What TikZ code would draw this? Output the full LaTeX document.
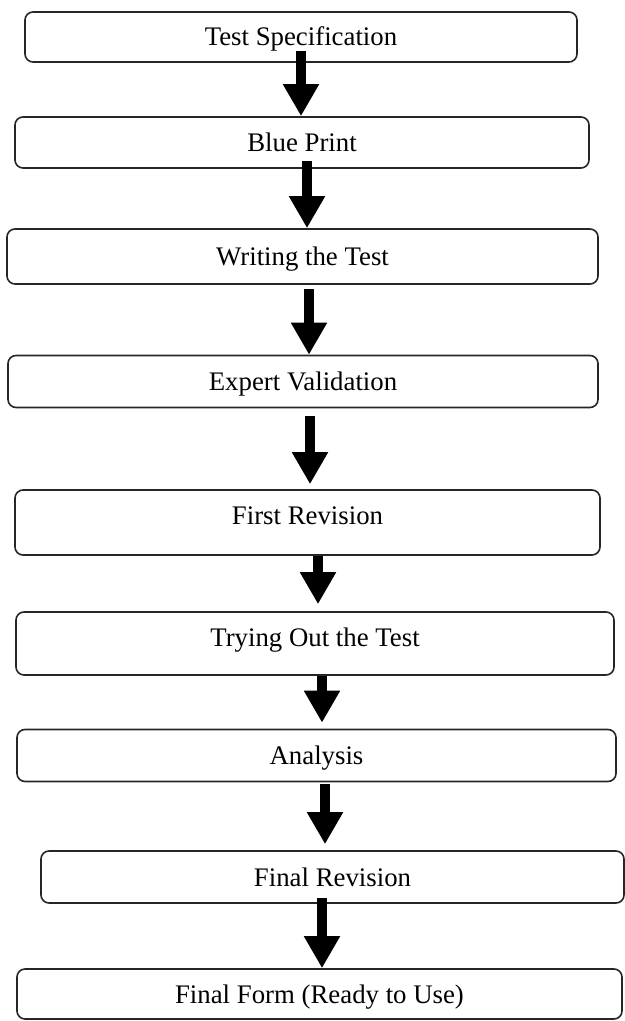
\documentclass[tikz,border=0pt]{standalone}
\usepackage{fontspec}
\setmainfont{Liberation Serif}
\usepackage{tikz}
\usetikzlibrary{arrows.meta,positioning}
\tikzset{block/.style={draw=black!85, line width=0.8pt, rectangle, rounded corners=4pt,
		minimum height=26pt, text height=11pt, text depth=2pt,
		font=\fontsize{13.4}{16}\selectfont},
	arrow/.style={draw,line width=5pt,-{Triangle[width=17pt,length=16pt]}}}

\begin{document}
\begin{tikzpicture}[x=0.5pt,y=-0.5pt]
		\useasboundingbox (0,0) rectangle (625,1021);
		\node [block,minimum width=276pt,minimum height=25pt] (specification) at (301,37) {Test Specification};
		\node [block,minimum width=287pt,minimum height=25.5pt] (blueprint) at (302,142.5) {Blue Print};
		\node [block,minimum width=295.5pt,minimum height=27.5pt] (writing) at (302.5,256.5) {Writing the Test};
		\node [block,minimum width=295pt] (validation) at (303,381.5) {Expert Validation};
		\node [block,minimum width=292.5pt,minimum height=32.5pt,text depth=9.5pt] (firstrev) at (307.5,522.5) {First Revision};
		\node [block,minimum width=299pt,minimum height=31.5pt,text depth=8.5pt] (tryout) at (315,643.5) {Trying Out the Test};
		\node [block,minimum width=299.5pt] (analysis) at (316.5,755.5) {Analysis};
		\node [block,minimum width=291.5pt] (finalrev) at (332.5,877) {Final Revision};
		\node [block,minimum width=302.5pt,minimum height=25pt] (finalform) at (319.5,994) {Final Form (Ready to Use)};
		
		\draw [arrow] ([yshift=6pt]specification.south) -- (specification.south |- blueprint.north);
		\draw [arrow] ([xshift=2.5pt,yshift=4pt]blueprint.south) -- ([xshift=2.5pt]blueprint.south |- writing.north);
		\draw [arrow] ([xshift=3.25pt,yshift=-2pt]writing.south) -- ([xshift=3.25pt]writing.south |- validation.north);
		\draw [arrow,shorten >=2.5pt] ([xshift=3.5pt,yshift=-4pt]validation.south) -- ([xshift=3.5pt]validation.south |- firstrev.north);
		\draw [arrow,shorten >=3.5pt] ([xshift=5.25pt]firstrev.south) -- ([xshift=5.25pt]firstrev.south |- tryout.north);
		\draw [arrow,shorten >=3pt] ([xshift=3.5pt]tryout.south) -- ([xshift=3.5pt]tryout.south |- analysis.north);
		\draw [arrow,shorten >=3pt] ([xshift=4.25pt,yshift=-1pt]analysis.south) -- ([xshift=4.25pt]analysis.south |- finalrev.north);
		\draw [arrow] ([xshift=-5.25pt,yshift=3pt]finalrev.south) -- ([xshift=-5.25pt]finalrev.south |- finalform.north);
	\end{tikzpicture}
\end{document}
